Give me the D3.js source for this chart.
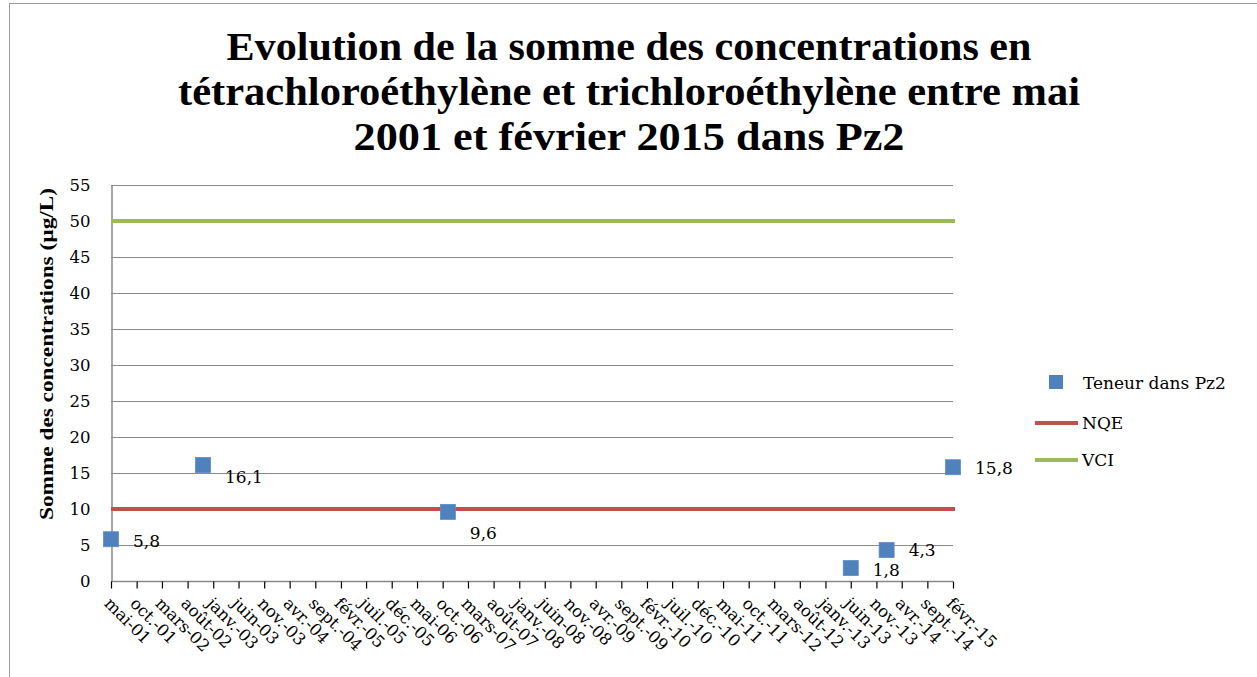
<!DOCTYPE html>
<html>
<head>
<meta charset="utf-8">
<script src="https://cdn.jsdelivr.net/npm/d3@7"></script>
<style>
  html, body { margin: 0; padding: 0; background: #fff; }
  svg { display: block; }
</style>
</head>
<body>
<svg id="chart" width="1257" height="677"></svg>
<script>
// ---- data ----
const sampleDates = ["2001-05-01", "2002-11-01", "2006-11-01", "2013-06-01", "2014-01-01", "2015-02-01"];
const sampleValues = [5.8, 16.1, 9.6, 1.8, 4.3, 15.8];
const sampleLabels = ["5,8", "16,1", "9,6", "1,8", "4,3", "15,8"];
const labelNudgeY = [2, 12, 21, 2, 0, 1];
const nqeValue = 10;
const vciValue = 50;
const yTicks = [0, 5, 10, 15, 20, 25, 30, 35, 40, 45, 50, 55];
const xTickLabels = ["mai-01", "oct.-01", "mars-02", "août-02", "janv.-03", "juin-03", "nov.-03", "avr.-04",
  "sept.-04", "févr.-05", "juil.-05", "déc.-05", "mai-06", "oct.-06", "mars-07", "août-07", "janv.-08",
  "juin-08", "nov.-08", "avr.-09", "sept.-09", "févr.-10", "juil.-10", "déc.-10", "mai-11", "oct.-11",
  "mars-12", "août-12", "janv.-13", "juin-13", "nov.-13", "avr.-14", "sept.-14", "févr.-15"];
const seriesNames = ["Teneur dans Pz2", "NQE", "VCI"];
const titleLines = ["Evolution de la somme des concentrations en",
  "tétrachloroéthylène et trichloroéthylène entre mai",
  "2001 et février 2015 dans Pz2"];
const yAxisTitle = "Somme des concentrations  (µg/L)";

// ---- layout ----
const svg = d3.select("#chart");
const plot = { left: 111, right: 953, top: 185, bottom: 581 };
const parse = d3.utcParse("%Y-%m-%d");
const dates = sampleDates.map(parse);
const xStart = parse("2001-05-01"), xEnd = parse("2015-02-01");

const x = d3.scaleUtc().domain([xStart, xEnd]).range([plot.left, plot.right]);
const y = d3.scaleLinear().domain([0, 55]).range([plot.bottom, plot.top]);

const serif = "'DejaVu Serif', serif";
const gridCol = "#898989";
const blue = "#4F81BD", red = "#C0504D", green = "#9BBB59";

// outer chart border
svg.append("rect").attr("x", 9.5).attr("y", 3.5).attr("width", 1257).attr("height", 690)
  .attr("fill", "none").attr("stroke", "#9a9a9a").attr("stroke-width", 1);

// title
const titleWidths = [805, 902, 551];
const titleY = [60, 105, 150];
svg.append("g").selectAll("text").data(titleLines).join("text")
  .attr("x", 629).attr("y", (d, i) => titleY[i])
  .attr("text-anchor", "middle")
  .attr("font-family", "'Liberation Serif', serif").attr("font-weight", "bold")
  .attr("font-size", 39)
  .attr("textLength", (d, i) => titleWidths[i]).attr("lengthAdjust", "spacingAndGlyphs")
  .attr("fill", "#000").text(d => d);

// gridlines
svg.append("g").selectAll("line").data(yTicks.filter(t => t > 0)).join("line")
  .attr("x1", plot.left).attr("x2", plot.right)
  .attr("y1", d => Math.round(y(d)) + 0.5).attr("y2", d => Math.round(y(d)) + 0.5)
  .attr("stroke", gridCol).attr("stroke-width", 1);

// y axis
const yAxis = d3.axisLeft(y).tickValues(yTicks).tickSize(0).tickPadding(21).tickFormat(d3.format("d"));
const gy = svg.append("g").attr("transform", `translate(${plot.left + 0.5},0)`).call(yAxis);
gy.select(".domain").attr("stroke", gridCol).attr("stroke-width", 1.5);
gy.selectAll("text").attr("font-family", serif).attr("font-size", 16.5).attr("fill", "#000");

// x axis
const tickDates = d3.utcMonth.range(xStart, d3.utcMonth.offset(xEnd, 1)).filter((d, i) => i % 5 === 0);
const xAxis = d3.axisBottom(x).tickValues(tickDates).tickSize(7)
  .tickFormat((d, i) => xTickLabels[i]);
const gx = svg.append("g").attr("transform", `translate(0,${plot.bottom + 0.5})`).call(xAxis);
gx.select(".domain").attr("stroke", gridCol).attr("stroke-width", 1.5).attr("d", `M${plot.left},0H${plot.right}`);
gx.selectAll(".tick line").attr("stroke", "#000").attr("stroke-width", 1.2);
gx.selectAll(".tick text")
  .attr("font-family", serif).attr("font-size", 16.5).attr("fill", "#000")
  .attr("text-anchor", "start")
  .attr("dy", 0).attr("y", 0)
  .attr("transform", "translate(-8,23) rotate(45)");

// reference lines
svg.append("line").attr("x1", plot.left).attr("x2", plot.right + 2)
  .attr("y1", y(vciValue)).attr("y2", y(vciValue))
  .attr("stroke", green).attr("stroke-width", 4);
svg.append("line").attr("x1", plot.left).attr("x2", plot.right + 2)
  .attr("y1", y(nqeValue)).attr("y2", y(nqeValue))
  .attr("stroke", red).attr("stroke-width", 4);

// markers
const ms = 15;
svg.append("g").selectAll("rect").data(sampleValues).join("rect")
  .attr("x", (d, i) => x(dates[i]) - ms / 2).attr("y", d => y(d) - ms / 2)
  .attr("width", ms).attr("height", ms)
  .attr("fill", blue).attr("stroke", "#5b8cc6").attr("stroke-width", 0.8);

// data labels
svg.append("g").selectAll("text").data(sampleValues).join("text")
  .attr("x", (d, i) => x(dates[i]) + 22)
  .attr("y", (d, i) => y(d) + labelNudgeY[i])
  .attr("dy", "0.35em")
  .attr("font-family", serif).attr("font-size", 17).attr("fill", "#000")
  .text((d, i) => sampleLabels[i]);

// y axis title
svg.append("text")
  .attr("transform", `translate(53,354) rotate(-90)`)
  .attr("text-anchor", "middle")
  .attr("font-family", "'Liberation Serif', serif").attr("font-weight", "bold").attr("font-size", 18)
  .attr("textLength", 332).attr("lengthAdjust", "spacingAndGlyphs")
  .attr("fill", "#000").text(yAxisTitle);

// legend
const lg = svg.append("g");
const legFont = 17;
lg.append("rect").attr("x", 1049).attr("y", 375).attr("width", 14).attr("height", 14).attr("fill", blue);
lg.append("text").attr("x", 1083).attr("y", 383).attr("dy", "0.35em")
  .attr("font-family", serif).attr("font-size", legFont).attr("fill", "#000").text(seriesNames[0]);
lg.append("line").attr("x1", 1035).attr("x2", 1078).attr("y1", 423).attr("y2", 423)
  .attr("stroke", red).attr("stroke-width", 4);
lg.append("text").attr("x", 1082).attr("y", 423).attr("dy", "0.35em")
  .attr("font-family", serif).attr("font-size", legFont).attr("fill", "#000").text(seriesNames[1]);
lg.append("line").attr("x1", 1035).attr("x2", 1078).attr("y1", 460).attr("y2", 460)
  .attr("stroke", green).attr("stroke-width", 4);
lg.append("text").attr("x", 1082).attr("y", 460).attr("dy", "0.35em")
  .attr("font-family", serif).attr("font-size", legFont).attr("fill", "#000").text(seriesNames[2]);
</script>
</body>
</html>
